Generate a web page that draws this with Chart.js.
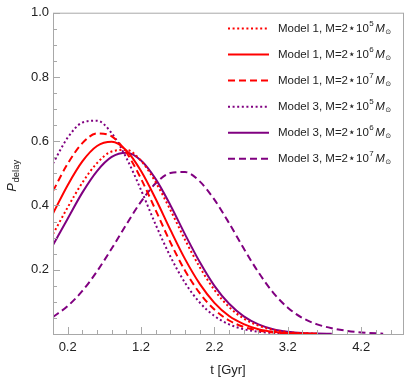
<!DOCTYPE html>
<html>
<head>
<meta charset="utf-8">
<script src="https://cdn.jsdelivr.net/npm/chart.js@4.4.0/dist/chart.umd.min.js"></script>
<style>
  html, body { margin: 0; padding: 0; background: #fff; }
</style>
</head>
<body>
<canvas id="grafico" width="413" height="381"></canvas>
<script>
// === DADOS ===
const tempos = [0, 0.2, 0.4, 0.6, 0.8, 1.0, 1.2, 1.4, 1.6, 1.8, 2.0, 2.2, 2.4, 2.6, 2.8, 3.0, 3.2, 3.4, 3.6, 3.8, 4.0, 4.2, 4.4, 4.5];

const modelo1_m5 = [0.311, 0.394, 0.471, 0.532, 0.568, 0.573, 0.539, 0.472, 0.386, 0.293, 0.208, 0.137, 0.084, 0.048, 0.026, 0.013, 0.006, 0.0025, 0.001, null, null, null, null, null];
const modelo1_m6 = [0.375, 0.463, 0.537, 0.585, 0.598, 0.571, 0.507, 0.420, 0.324, 0.233, 0.156, 0.097, 0.056, 0.031, 0.015, 0.007, 0.003, 0.0013, 0.0005, null, null, null, null, null];
const modelo1_m7 = [0.445, 0.530, 0.594, 0.624, 0.615, 0.565, 0.483, 0.385, 0.285, 0.197, 0.127, 0.076, 0.042, 0.022, 0.011, 0.005, 0.002, 0.0008, 0.0003, null, null, null, null, null];
const modelo3_m5 = [0.531, 0.611, 0.658, 0.664, 0.625, 0.548, 0.448, 0.340, 0.241, 0.159, 0.098, 0.056, 0.030, 0.015, 0.007, 0.003, 0.0012, 0.0004, null, null, null, null, null, null];
const modelo3_m6 = [0.277, 0.359, 0.440, 0.507, 0.551, 0.564, 0.540, 0.482, 0.401, 0.310, 0.224, 0.150, 0.094, 0.055, 0.030, 0.015, 0.007, 0.003, 0.0013, 0.0005, null, null, null, null];
const modelo3_m7 = [0.053, 0.087, 0.134, 0.195, 0.266, 0.341, 0.412, 0.469, 0.501, 0.504, 0.475, 0.418, 0.345, 0.266, 0.192, 0.129, 0.082, 0.050, 0.030, 0.018, 0.010, 0.005, 0.002, 0.001];

// legenda: "Model N, M=2⋆10^k M⊙"
const nomesModelo = ["Model 1", "Model 1", "Model 1", "Model 3", "Model 3", "Model 3"];
const expoentes = ["5", "6", "7", "5", "6", "7"];

// ticks
const xRotulos = [0.2, 1.2, 2.2, 3.2, 4.2];
const xMenores = [0.4, 0.6, 0.8, 1.0, 1.4, 1.6, 1.8, 2.0, 2.4, 2.6, 2.8, 3.0, 3.4, 3.6, 3.8, 4.0, 4.4, 4.6];
const yRotulos = [0.2, 0.4, 0.6, 0.8, 1.0];
const yMenores = [0.05, 0.1, 0.15, 0.25, 0.3, 0.35, 0.45, 0.5, 0.55, 0.65, 0.7, 0.75, 0.85, 0.9, 0.95];

const VERMELHO = '#ff0000';
const ROXO = '#800080';
const PONTILHADO = [2, 2.6];
const TRACEJADO = [7, 4];
const FONTE = '"Liberation Sans", Arial, sans-serif';

function serie(valores, cor, traco) {
  return {
    data: tempos.map((t, i) => ({ x: t, y: valores[i] })),
    borderColor: cor,
    borderWidth: 2,
    borderDash: traco,
    pointRadius: 0,
    fill: false,
    cubicInterpolationMode: 'monotone',
    spanGaps: false
  };
}

const series = [
  serie(modelo1_m5, VERMELHO, PONTILHADO),
  serie(modelo1_m6, VERMELHO, []),
  serie(modelo1_m7, VERMELHO, TRACEJADO),
  serie(modelo3_m5, ROXO, PONTILHADO),
  serie(modelo3_m6, ROXO, []),
  serie(modelo3_m7, ROXO, TRACEJADO)
];

// === MOLDURA, TICKS INTERNOS, TÍTULOS E LEGENDA ===
const desenho = {
  id: 'desenho',
  afterDraw(chart) {
    const { ctx, chartArea: a, scales: { x, y } } = chart;
    ctx.save();

    // moldura
    ctx.strokeStyle = '#a8a8a8';
    ctx.lineWidth = 1;
    ctx.strokeRect(a.left + 0.5, a.top + 0.5, a.right - a.left, a.bottom - a.top);

    // ticks para dentro
    ctx.beginPath();
    xRotulos.forEach(v => { const p = Math.round(x.getPixelForValue(v)) + 0.5; ctx.moveTo(p, a.bottom); ctx.lineTo(p, a.bottom - 7); });
    xMenores.forEach(v => { const p = Math.round(x.getPixelForValue(v)) + 0.5; ctx.moveTo(p, a.bottom); ctx.lineTo(p, a.bottom - 4); });
    yRotulos.forEach(v => { const p = Math.round(y.getPixelForValue(v)) + 0.5; ctx.moveTo(a.left, p); ctx.lineTo(a.left + 7, p); });
    yMenores.forEach(v => { const p = Math.round(y.getPixelForValue(v)) + 0.5; ctx.moveTo(a.left, p); ctx.lineTo(a.left + 4, p); });
    ctx.stroke();

    // título eixo x
    ctx.fillStyle = '#222';
    ctx.textAlign = 'center';
    ctx.textBaseline = 'middle';
    ctx.font = '13px ' + FONTE;
    ctx.fillText('t [Gyr]', (a.left + a.right) / 2, 370);

    // título eixo y: P_delay
    ctx.save();
    ctx.translate(15.5, 176);
    ctx.rotate(-Math.PI / 2);
    ctx.textAlign = 'left';
    ctx.textBaseline = 'alphabetic';
    ctx.font = 'italic 13px ' + FONTE;
    const wP = ctx.measureText('P').width;
    ctx.font = '9.5px ' + FONTE;
    const wD = ctx.measureText('delay').width;
    const x0 = -(wP + wD) / 2;
    ctx.font = 'italic 13px ' + FONTE;
    ctx.fillText('P', x0, 0);
    ctx.font = '9.5px ' + FONTE;
    ctx.fillText('delay', x0 + wP + 0.5, 3);
    ctx.restore();

    // legenda
    chart.data.datasets.forEach((ds, i) => {
      const ly = 28.5 + i * 26.05;
      ctx.beginPath();
      ctx.strokeStyle = ds.borderColor;
      ctx.lineWidth = 2;
      ctx.setLineDash(ds.borderDash);
      ctx.moveTo(228, ly);
      ctx.lineTo(269, ly);
      ctx.stroke();
      ctx.setLineDash([]);

      ctx.fillStyle = '#222';
      ctx.textAlign = 'left';
      ctx.textBaseline = 'middle';
      let px = 278;
      ctx.font = '11.5px ' + FONTE;
      const base = nomesModelo[i] + ', M=2\u22C610';
      ctx.fillText(base, px, ly);
      px += ctx.measureText(base).width + 0.5;
      ctx.font = '8px ' + FONTE;
      ctx.fillText(expoentes[i], px, ly - 5);
      px += ctx.measureText(expoentes[i]).width + 1.5;
      ctx.font = 'italic 11.5px ' + FONTE;
      ctx.fillText('M', px, ly);
      px += ctx.measureText('M').width + 0.5;
      ctx.font = '7px "DejaVu Sans", sans-serif';
      ctx.fillText('\u2299', px, ly + 3.5);
    });

    ctx.restore();
  }
};

new Chart(document.getElementById('grafico'), {
  type: 'line',
  data: { datasets: series },
  options: {
    responsive: false,
    devicePixelRatio: 1,
    animation: false,
    layout: { padding: { left: 0, top: 12.7, right: 10, bottom: 0 } },
    plugins: { legend: { display: false }, tooltip: { enabled: false } },
    scales: {
      x: {
        type: 'linear',
        min: 0,
        max: 4.77,
        grid: { display: false, drawTicks: false },
        border: { display: false },
        afterBuildTicks: s => { s.ticks = xRotulos.map(v => ({ value: v })); },
        afterFit: s => { s.height = 47; },
        ticks: {
          padding: 6,
          autoSkip: false,
          maxRotation: 0,
          color: '#222',
          font: { size: 13, family: FONTE },
          callback: v => v.toFixed(1)
        }
      },
      y: {
        type: 'linear',
        min: 0,
        max: 1,
        grid: { display: false, drawTicks: false },
        border: { display: false },
        afterBuildTicks: s => { s.ticks = yRotulos.map(v => ({ value: v })); },
        afterFit: s => { s.width = 53; },
        ticks: {
          padding: 4,
          autoSkip: false,
          color: '#222',
          font: { size: 13, family: FONTE },
          callback: v => v.toFixed(1)
        }
      }
    }
  },
  plugins: [desenho]
});
</script>
</body>
</html>
